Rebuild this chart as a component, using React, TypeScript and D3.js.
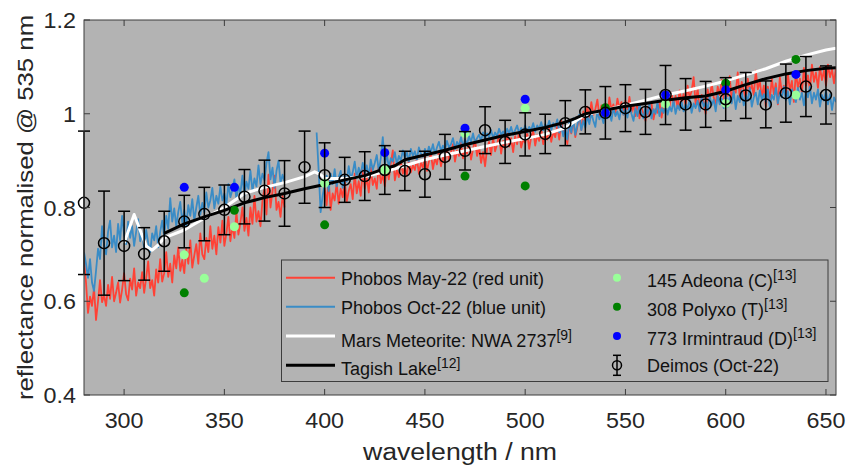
import React from 'react';
import * as d3 from 'd3';

// ---------- data ----------
const xTickValues = [300, 350, 400, 450, 500, 550, 600, 650];
const yTickValues = [0.4, 0.6, 0.8, 1.0, 1.2];
const yTickLabels = ['0.4', '0.6', '0.8', '1', '1.2'];

// Phobos May-22 (red unit): two spectral segments, sampled every 1 nm
const redLeftStart = 280;
const redLeft = [
  0.690, 0.640, 0.575, 0.610, 0.590, 0.628, 0.560, 0.600, 0.645, 0.598,
  0.612, 0.590, 0.635, 0.605, 0.652, 0.600, 0.618, 0.640, 0.597, 0.625,
  0.660, 0.615, 0.602, 0.648, 0.625, 0.670, 0.612, 0.640, 0.628, 0.662,
  0.618, 0.650, 0.685, 0.628, 0.645, 0.612, 0.668, 0.640, 0.690, 0.642,
  0.660, 0.705, 0.652, 0.680, 0.640, 0.698, 0.670, 0.715, 0.665, 0.688,
  0.660, 0.712, 0.680, 0.730, 0.672, 0.698, 0.722, 0.680, 0.745, 0.700,
  0.690, 0.735, 0.705, 0.760, 0.712, 0.740, 0.700, 0.758, 0.725, 0.772,
  0.718, 0.745, 0.780, 0.728, 0.762, 0.735, 0.790, 0.742, 0.768, 0.800,
  0.750, 0.778, 0.740, 0.800, 0.765, 0.825, 0.770, 0.792, 0.760, 0.815,
  0.842, 0.785, 0.870, 0.800, 0.835, 0.868, 0.795, 0.812, 0.780, 0.825,
  0.800,
];
const redRightStart = 400;
const redRight = [
  0.842, 0.805, 0.860, 0.795, 0.830, 0.815, 0.852, 0.808, 0.840, 0.822,
  0.858, 0.812, 0.835, 0.850, 0.818, 0.872, 0.830, 0.856, 0.825, 0.880,
  0.840, 0.865, 0.832, 0.885, 0.848, 0.862, 0.840, 0.890, 0.852, 0.870,
  0.845, 0.885, 0.860, 0.895, 0.922, 0.858, 0.880, 0.865, 0.898, 0.872,
  0.885, 0.868, 0.902, 0.875, 0.890, 0.880, 0.905, 0.872, 0.895, 0.885,
  0.910, 0.878, 0.898, 0.915, 0.882, 0.905, 0.892, 0.920, 0.888, 0.908,
  0.895, 0.925, 0.900, 0.918, 0.935, 0.898, 0.922, 0.910, 0.940, 0.905,
  0.928, 0.915, 0.938, 0.902, 0.925, 0.945, 0.910, 0.930, 0.895, 0.918,
  0.888, 0.925, 0.940, 0.912, 0.948, 0.920, 0.935, 0.955, 0.915, 0.942,
  0.925, 0.958, 0.930, 0.948, 0.918, 0.952, 0.935, 0.962, 0.928, 0.945,
  0.938, 0.960, 0.925, 0.950, 0.965, 0.932, 0.955, 0.942, 0.968, 0.935,
  0.958, 0.945, 0.970, 0.940, 0.962, 0.950, 0.975, 0.945, 0.985, 0.955,
  0.968, 0.935, 0.978, 0.958, 0.988, 0.950, 0.972, 0.995, 0.965, 1.005,
  0.985, 1.015, 0.992, 1.025, 0.998, 1.010, 1.030, 0.995, 1.018, 1.005,
  1.022, 0.995, 1.035, 1.008, 1.020, 1.000, 1.032, 1.012, 1.025, 0.998,
  1.028, 1.010, 1.036, 1.002, 1.018, 0.995, 1.025, 0.990, 1.012, 1.000,
  0.985, 1.015, 0.995, 1.022, 0.988, 1.010, 1.002, 1.025, 0.992, 1.018,
  1.008, 1.030, 1.015, 1.045, 1.020, 1.038, 1.012, 1.050, 1.025, 1.042,
  1.018, 1.060, 1.035, 1.048, 1.078, 1.020, 1.055, 1.005, 1.040, 1.025,
  1.000, 1.052, 1.028, 1.065, 1.035, 1.018, 1.058, 1.040, 1.072, 1.030,
  1.062, 1.038, 1.080, 1.025, 1.055, 1.045, 1.088, 1.035, 1.068, 1.050,
  1.030, 1.075, 1.048, 1.062, 1.040, 1.092, 1.052, 1.070, 1.035, 1.060,
  1.015, 1.058, 1.030, 1.075, 1.042, 1.065, 1.020, 1.078, 1.045, 1.060,
  1.035, 1.085, 1.050, 1.070, 1.025, 1.090, 1.055, 1.075, 1.045, 1.098,
  1.060, 1.082, 1.050, 1.105, 1.068, 1.088, 1.055, 1.100, 1.072, 1.092,
  1.060, 1.105, 1.078, 1.095, 1.065, 1.100,
];

// Phobos Oct-22 (blue unit)
const blueLeftStart = 280;
const blueLeft = [
  0.705, 0.680, 0.650, 0.690, 0.640, 0.622, 0.665, 0.712, 0.690, 0.760,
  0.720, 0.700, 0.748, 0.772, 0.715, 0.740, 0.705, 0.765, 0.730, 0.782,
  0.742, 0.722, 0.770, 0.735, 0.760, 0.718, 0.748, 0.775, 0.728, 0.745,
  0.712, 0.752, 0.725, 0.705, 0.745, 0.730, 0.760, 0.715, 0.748, 0.772,
  0.738, 0.782, 0.755, 0.820, 0.770, 0.798, 0.760, 0.790, 0.812, 0.768,
  0.795, 0.760, 0.805, 0.782, 0.818, 0.772, 0.800, 0.825, 0.785, 0.810,
  0.790, 0.832, 0.800, 0.815, 0.842, 0.798, 0.825, 0.808, 0.845, 0.815,
  0.830, 0.805, 0.850, 0.822, 0.838, 0.860, 0.818, 0.845, 0.830, 0.868,
  0.825, 0.855, 0.840, 0.878, 0.835, 0.862, 0.845, 0.890, 0.850, 0.872,
  0.858, 0.895, 0.918, 0.860, 0.885, 0.842, 0.878, 0.900, 0.852, 0.870,
  0.855,
];
const blueRightStart = 396;
const blueRight = [
  0.960, 0.880, 0.790, 0.825,
  0.848, 0.868, 0.835, 0.872, 0.850, 0.882, 0.845, 0.865, 0.878, 0.842,
  0.870, 0.855, 0.888, 0.860, 0.875, 0.898, 0.862, 0.885, 0.870, 0.895,
  0.872, 0.890, 0.865, 0.902, 0.880, 0.895, 0.912, 0.878, 0.905, 0.950,
  0.890, 0.915, 0.885, 0.905, 0.898, 0.918, 0.892, 0.910, 0.900, 0.922,
  0.905, 0.918, 0.898, 0.925, 0.910, 0.920, 0.902, 0.928, 0.915, 0.908,
  0.925, 0.912, 0.930, 0.918, 0.935, 0.915, 0.928, 0.940, 0.920, 0.932,
  0.922, 0.942, 0.928, 0.935, 0.948, 0.925, 0.940, 0.932, 0.950, 0.930,
  0.945, 0.935, 0.952, 0.940, 0.958, 0.938, 0.948, 0.955, 0.942, 0.960,
  0.945, 0.958, 0.950, 0.965, 0.948, 0.960, 0.952, 0.968, 0.955, 0.962,
  0.950, 0.968, 0.958, 0.972, 0.955, 0.965, 0.975, 0.958, 0.970, 0.962,
  0.975, 0.960, 0.972, 0.965, 0.980, 0.962, 0.975, 0.968, 0.982, 0.965,
  0.978, 0.970, 0.985, 0.965, 0.980, 0.972, 0.988, 0.960, 0.975, 0.952,
  0.970, 0.945, 0.982, 0.960, 0.990, 0.955, 0.975, 0.998, 0.965, 0.985,
  0.970, 0.995, 0.978, 1.002, 0.985, 0.972, 1.005, 0.988, 0.998, 0.980,
  1.008, 0.990, 1.002, 0.985, 1.012, 0.995, 1.005, 0.988, 1.015, 0.998,
  1.010, 0.992, 1.018, 1.000, 0.985, 1.012, 0.995, 1.020, 1.002, 0.990,
  1.015, 0.998, 1.022, 0.990, 1.010, 1.000, 1.025, 0.995, 1.012, 1.002,
  1.020, 0.998, 1.015, 1.005, 1.028, 1.000, 1.018, 1.008, 1.025, 1.005,
  1.020, 1.010, 1.030, 1.002, 1.022, 1.012, 1.028, 1.005, 1.035, 1.015,
  1.025, 1.008, 1.038, 1.018, 1.030, 1.005, 1.040, 1.020, 1.032, 1.012,
  1.045, 1.015, 1.035, 1.022, 1.048, 1.010, 1.038, 1.025, 1.050, 1.018,
  1.040, 1.028, 1.055, 1.015, 1.035, 1.045, 1.020, 1.050, 1.030, 1.042,
  1.025, 1.052, 1.015, 1.040, 1.030, 1.055, 1.022, 1.045, 1.035, 1.058,
  1.028, 1.048, 1.020, 1.052, 1.038, 1.025, 1.055, 1.030, 1.045, 1.018,
  1.050, 1.035, 1.058, 1.022, 1.045, 1.030, 1.052, 1.015, 1.040, 1.028,
  1.050, 1.020, 1.042, 1.008, 1.035, 1.025,
];

// Mars Meteorite NWA 2737
const meteoriteWl = [300, 305, 311, 314, 317, 320, 330, 340, 350, 360, 370, 380, 390, 395, 398, 400, 410, 420, 430, 440, 450, 460, 470, 480, 490, 500, 510, 520, 530, 540, 550, 560, 570, 580, 590, 600, 610, 620, 630, 640, 650, 655];
const meteoriteVal = [0.724, 0.785, 0.718, 0.709, 0.720, 0.735, 0.752, 0.777, 0.800, 0.830, 0.843, 0.853, 0.866, 0.876, 0.870, 0.862, 0.862, 0.866, 0.876, 0.889, 0.902, 0.912, 0.921, 0.930, 0.939, 0.947, 0.956, 0.970, 0.998, 1.008, 1.018, 1.029, 1.040, 1.049, 1.059, 1.070, 1.083, 1.096, 1.112, 1.125, 1.136, 1.140];

// Tagish Lake
const tagishWl = [320, 330, 340, 350, 360, 370, 380, 390, 400, 410, 420, 430, 435, 440, 450, 460, 470, 480, 490, 500, 510, 520, 525, 530, 540, 550, 560, 570, 580, 590, 600, 610, 620, 630, 640, 650, 655];
const tagishVal = [0.745, 0.765, 0.780, 0.794, 0.810, 0.821, 0.830, 0.840, 0.849, 0.859, 0.868, 0.883, 0.889, 0.902, 0.912, 0.922, 0.934, 0.944, 0.954, 0.962, 0.971, 0.982, 0.990, 1.000, 1.008, 1.016, 1.022, 1.029, 1.034, 1.038, 1.048, 1.062, 1.075, 1.085, 1.092, 1.097, 1.098];

// Asteroids
const adeonaWl = [330, 340, 355, 400, 430, 470, 500, 540, 570, 600, 635];
const adeonaVal = [0.699, 0.649, 0.759, 0.852, 0.880, 0.958, 1.012, 1.004, 1.021, 1.022, 1.040];
const polyxoWl = [330, 355, 400, 470, 500, 540, 600, 635];
const polyxoVal = [0.618, 0.794, 0.763, 0.867, 0.846, 1.013, 1.065, 1.116];
const irmWl = [330, 355, 400, 430, 470, 500, 540, 570, 600, 635];
const irmVal = [0.843, 0.843, 0.916, 0.917, 0.969, 1.031, 1.002, 1.040, 1.051, 1.084];

// Deimos (Oct-22)
const deimosWl = [280, 290, 300, 310, 320, 330, 340, 350, 360, 370, 380, 390, 400, 410, 420, 430, 440, 450, 460, 470, 480, 490, 500, 510, 520, 530, 540, 550, 560, 570, 580, 590, 600, 610, 620, 630, 640, 650];
const deimosVal = [0.810, 0.724, 0.718, 0.701, 0.728, 0.770, 0.786, 0.795, 0.823, 0.836, 0.830, 0.886, 0.869, 0.859, 0.867, 0.880, 0.878, 0.871, 0.908, 0.921, 0.965, 0.940, 0.956, 0.957, 0.980, 1.004, 1.002, 1.012, 1.004, 1.040, 1.020, 1.020, 1.031, 1.039, 1.020, 1.044, 1.058, 1.040];
const deimosErr = [0.153, 0.111, 0.074, 0.056, 0.064, 0.056, 0.057, 0.053, 0.058, 0.065, 0.070, 0.077, 0.069, 0.048, 0.052, 0.052, 0.042, 0.049, 0.048, 0.041, 0.050, 0.046, 0.046, 0.042, 0.048, 0.047, 0.056, 0.050, 0.048, 0.063, 0.055, 0.049, 0.046, 0.049, 0.050, 0.062, 0.064, 0.062];

// ---------- styling ----------
const FONT = "'Liberation Sans', Arial, Helvetica, sans-serif";
const BG = '#b3b3b3';
const AX = '#3c3c3c';
const TXT = '#262626';
const RED = '#ff4236';
const BLUE = '#3a8cc6';
const LGREEN = '#99ff99';
const DGREEN = '#008000';
const IBLUE = '#0000ff';

const W = 850;
const H = 470;
const PL = 84, PR = 836, PT = 20, PB = 395;

type Pt = [number, number];

function seg(start: number, vals: number[]): Pt[] {
  return vals.map((v, i) => [start + i, v] as Pt);
}
function zip(wl: number[], v: number[]): Pt[] {
  return wl.map((w, i) => [w, v[i]] as Pt);
}

export default function App() {
  const x = d3.scaleLinear().domain([280, 655]).range([PL, PR]);
  const y = d3.scaleLinear().domain([0.4, 1.2]).range([PB, PT]);
  const line = d3.line<Pt>().x((d) => x(d[0])).y((d) => y(d[1]));

  const redSegs = [seg(redLeftStart, redLeft), seg(redRightStart, redRight)];
  const blueSegs = [seg(blueLeftStart, blueLeft), seg(blueRightStart, blueRight)];
  const met = zip(meteoriteWl, meteoriteVal);
  const tag = zip(tagishWl, tagishVal);

  const tickLen = 6;
  const cap = 6;

  const legRows = [277.7, 306.7, 336, 365.3];
  const legBase1 = [285, 314, 346.5, 375];
  const legBase2 = [286.5, 315.5, 344.5, 372];
  const sup = (s: string) => (
    <tspan dy={-7} fontSize={14}>{s}</tspan>
  );

  return (
    <svg width={W} height={H} style={{ position: 'absolute', left: 0, top: 0, background: '#fff' }} fontFamily={FONT}>
      <defs>
        <clipPath id="plotclip">
          <rect x={PL} y={PT} width={PR - PL} height={PB - PT} />
        </clipPath>
      </defs>
      <rect x={0} y={0} width={W} height={H} fill="#fff" />
      <rect x={PL} y={PT} width={PR - PL} height={PB - PT} fill={BG} />

      <g clipPath="url(#plotclip)">
        {redSegs.map((s, i) => (
          <path key={'r' + i} d={line(s) || ''} fill="none" stroke={RED} strokeWidth={1.8} strokeLinejoin="round" />
        ))}
        {blueSegs.map((s, i) => (
          <path key={'b' + i} d={line(s) || ''} fill="none" stroke={BLUE} strokeWidth={1.8} strokeLinejoin="round" />
        ))}
        <path d={line(met) || ''} fill="none" stroke="#ffffff" strokeWidth={3} strokeLinejoin="round" />
        <path d={line(tag) || ''} fill="none" stroke="#000000" strokeWidth={3} strokeLinejoin="round" />
      </g>

      {adeonaWl.map((w, i) => (
        <circle key={'a' + i} cx={x(w)} cy={y(adeonaVal[i])} r={4.5} fill={LGREEN} />
      ))}
      {polyxoWl.map((w, i) => (
        <circle key={'p' + i} cx={x(w)} cy={y(polyxoVal[i])} r={4.5} fill={DGREEN} />
      ))}
      {irmWl.map((w, i) => (
        <circle key={'m' + i} cx={x(w)} cy={y(irmVal[i])} r={4.5} fill={IBLUE} />
      ))}

      {deimosWl.map((w, i) => {
        const cx = x(w);
        const yt = y(deimosVal[i] + deimosErr[i]);
        const yb = y(deimosVal[i] - deimosErr[i]);
        return (
          <g key={'d' + i} stroke="#000" strokeWidth={1.5} fill="none">
            <line x1={cx} x2={cx} y1={yt} y2={yb} />
            <line x1={cx - cap} x2={cx + cap} y1={yt} y2={yt} />
            <line x1={cx - cap} x2={cx + cap} y1={yb} y2={yb} />
            <circle cx={cx} cy={y(deimosVal[i])} r={5.5} />
          </g>
        );
      })}

      {/* axes box and ticks */}
      <rect x={PL} y={PT} width={PR - PL} height={PB - PT} fill="none" stroke={AX} strokeWidth={1} />
      {xTickValues.map((t) => (
        <g key={'xt' + t} stroke={AX} strokeWidth={1}>
          <line x1={x(t)} x2={x(t)} y1={PB} y2={PB - tickLen} />
          <line x1={x(t)} x2={x(t)} y1={PT} y2={PT + tickLen} />
        </g>
      ))}
      {yTickValues.map((t) => (
        <g key={'yt' + t} stroke={AX} strokeWidth={1}>
          <line x1={PL} x2={PL + tickLen} y1={y(t)} y2={y(t)} />
          <line x1={PR} x2={PR - tickLen} y1={y(t)} y2={y(t)} />
        </g>
      ))}
      {xTickValues.map((t) => (
        <text key={'xl' + t} transform={`translate(${x(t)},428) scale(1.06,1)`} textAnchor="middle" fontSize={22} fill={TXT}>
          {t}
        </text>
      ))}
      {yTickValues.map((t, i) => (
        <text key={'yl' + t} transform={`translate(76,${y(t) + 8}) scale(1.06,1)`} textAnchor="end" fontSize={22} fill={TXT}>
          {yTickLabels[i]}
        </text>
      ))}

      <text transform={`translate(${(PL + PR) / 2},460) scale(1.16,1)`} textAnchor="middle" fontSize={23} fill={TXT}>
        wavelength / nm
      </text>
      <text transform={`translate(33,${(PT + PB) / 2}) rotate(-90) scale(1.17,1)`} textAnchor="middle" fontSize={22} fill={TXT}>
        reflectance normalised @ 535 nm
      </text>

      {/* legend */}
      <rect x={281.5} y={260} width={546.5} height={121.5} fill={BG} stroke={AX} strokeWidth={1} />
      <line x1={286} x2={335} y1={legRows[0]} y2={legRows[0]} stroke={RED} strokeWidth={2} />
      <line x1={286} x2={335} y1={legRows[1]} y2={legRows[1]} stroke={BLUE} strokeWidth={2} />
      <line x1={286} x2={335} y1={legRows[2]} y2={legRows[2]} stroke="#fff" strokeWidth={3} />
      <line x1={286} x2={335} y1={legRows[3]} y2={legRows[3]} stroke="#000" strokeWidth={3} />
      <g fontSize={18} fill="#111">
        <text x={341} y={legBase1[0]}>Phobos May-22 (red unit)</text>
        <text x={341} y={legBase1[1]}>Phobos Oct-22 (blue unit)</text>
        <text x={341} y={legBase1[2]}>Mars Meteorite: NWA 2737{sup('[9]')}</text>
        <text x={341} y={legBase1[3]}>Tagish Lake{sup('[12]')}</text>

        <text x={647} y={legBase2[0]}>145 Adeona (C){sup('[13]')}</text>
        <text x={647} y={legBase2[1]}>308 Polyxo (T){sup('[13]')}</text>
        <text x={647} y={legBase2[2]}>773 Irmintraud (D){sup('[13]')}</text>
        <text x={647} y={legBase2[3]}>Deimos (Oct-22)</text>
      </g>
      <circle cx={617} cy={legRows[0]} r={4} fill={LGREEN} />
      <circle cx={617} cy={legRows[1]} r={4} fill={DGREEN} />
      <circle cx={617} cy={legRows[2]} r={4} fill={IBLUE} />
      <g stroke="#000" strokeWidth={1.5} fill="none">
        <line x1={617} x2={617} y1={legRows[3] - 10} y2={legRows[3] + 10} />
        <line x1={613} x2={621} y1={legRows[3] - 10} y2={legRows[3] - 10} />
        <line x1={613} x2={621} y1={legRows[3] + 10} y2={legRows[3] + 10} />
        <circle cx={617} cy={legRows[3]} r={4.5} />
      </g>
    </svg>
  );
}
